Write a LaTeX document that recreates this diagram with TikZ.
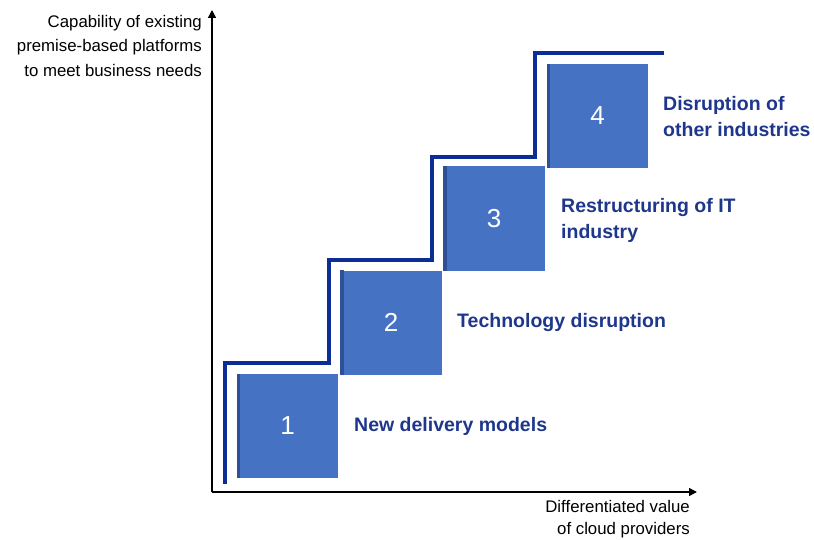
\documentclass[tikz,border=0pt]{standalone}
\usepackage{fontspec}
\setmainfont{Liberation Sans}
\usetikzlibrary{arrows.meta}
\definecolor{boxblue}{RGB}{70,114,196}
\definecolor{boxedge}{RGB}{47,80,150}
\definecolor{stairblue}{RGB}{10,45,150}
\definecolor{labelblue}{RGB}{30,55,140}
\tikzset{
  stepbox/.style={fill=boxblue, draw=none, minimum width=101pt, minimum height=104pt, inner sep=0pt},
  stepnum/.style={text=white, inner sep=0pt, font=\fontsize{26}{26}\selectfont},
  steplabel/.style={anchor=west, inner sep=0pt, text=labelblue, font=\fontsize{19.5}{26}\selectfont\bfseries, align=left},
  axislabel/.style={anchor=north east, inner sep=0pt, font=\fontsize{16.8}{24.5}\selectfont, align=right},
  axis/.style={line width=1.4pt, -{Triangle[length=8pt,width=8pt]}},
  stair/.style={draw=stairblue, line width=3.2pt}
}
\begin{document}
\begin{tikzpicture}[x=1pt,y=-1pt]
\useasboundingbox (0,0) rectangle (814,540);
% axes
\coordinate (o) at (212,492);
\coordinate (ytop) at (212,10);
\coordinate (xend) at (697,492);
\draw[axis] (o) -- (ytop);
\draw[axis] (o) -- (xend);
% boxes
\node[stepbox] (b1) at (287.5,426) {};
\node[stepbox] (b2) at (391,322.5) {};
\node[stepbox] (b3) at (494,218.5) {};
\node[stepbox] (b4) at (597.5,116) {};
\foreach \b in {b1,b2,b3,b4}{
  \fill[boxedge] (\b.north west) rectangle ([xshift=3.5pt]\b.south west);
}
\node[stepnum] (n1) at (b1) {1};
\node[stepnum] (n2) at (b2) {2};
\node[stepnum] (n3) at (b3) {3};
\node[stepnum] (n4) at (b4) {4};
% staircase
\coordinate (s0) at (225,484);
\coordinate (s1) at (664,53);
\draw[stair] (s0) -- (225,363) -- (329,363) -- (329,260) -- (432,260) -- (432,157) -- (535,157) -- (535,53) -- (s1);
% labels
\node[steplabel] (l1) at (354,426) {New delivery models};
\node[steplabel] (l2) at (457,323) {Technology disruption};
\node[steplabel] (l3) at (561,220) {Restructuring of IT\\industry};
\node[steplabel] (l4) at (663,117) {Disruption of\\other industries};
% axis labels
\node[axislabel] (ya) at (202,15) {Capability of existing\\premise-based platforms\\to meet business needs};
\node[axislabel, font=\fontsize{16.8}{22.5}\selectfont] (xa) at (690,500) {Differentiated value\\of cloud providers};
\end{tikzpicture}
\end{document}
